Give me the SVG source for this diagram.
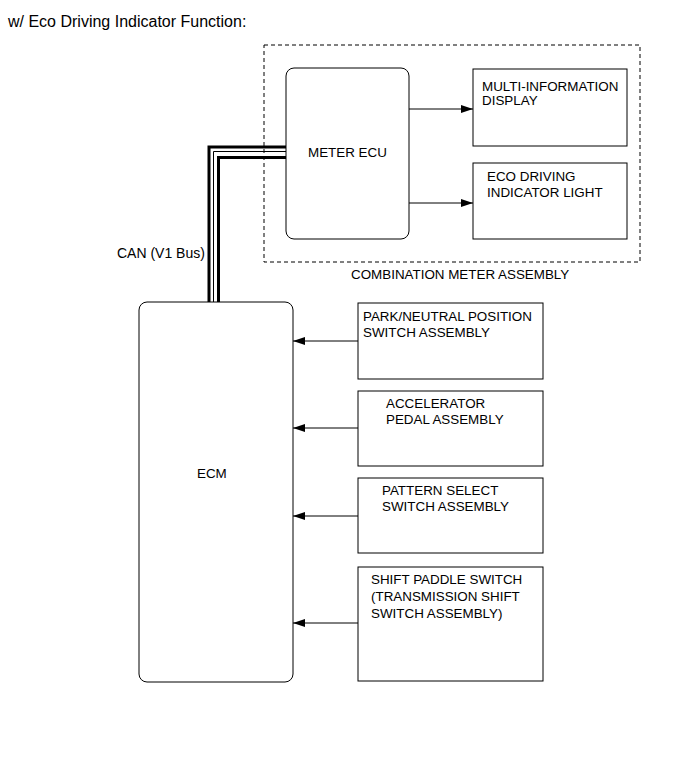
<svg xmlns="http://www.w3.org/2000/svg" width="691" height="757" viewBox="0 0 691 757">
<style>
text{font-family:"Liberation Sans",Arial,sans-serif;font-size:13.4px;fill:#000}
.title{font-size:16px}
.box{fill:#fff;stroke:#000;stroke-width:1}
.conn{stroke:#000;stroke-width:1;fill:none}
.bus{fill:none;stroke:#000}
</style>
<defs>
<marker id="ah" markerWidth="12" markerHeight="8" refX="12" refY="4" orient="auto" markerUnits="userSpaceOnUse">
<path d="M0,0 L12,4 L0,8 Z" fill="#000"/>
</marker>
</defs>
<rect width="691" height="757" fill="#fff"/>
<text class="title" x="8" y="27">w/ Eco Driving Indicator Function:</text>
<g id="combination-meter">
<rect x="264" y="45" width="376" height="217" fill="none" stroke="#000" stroke-width="1" stroke-dasharray="4,3"/>
<text x="351" y="279">COMBINATION METER ASSEMBLY</text>
</g>
<g id="connectors">
<path class="bus" d="M209,302 V147 H286" stroke-width="3"/>
<path class="bus" d="M213.5,302 V151.5 H286" stroke-width="1"/>
<path class="bus" d="M218.5,302 V157.5 H286" stroke-width="3"/>
<line class="conn" x1="409" y1="109" x2="473" y2="109" marker-end="url(#ah)"/>
<line class="conn" x1="409" y1="203" x2="473" y2="203" marker-end="url(#ah)"/>
<line class="conn" x1="358" y1="341" x2="293" y2="341" marker-end="url(#ah)"/>
<line class="conn" x1="358" y1="428" x2="293" y2="428" marker-end="url(#ah)"/>
<line class="conn" x1="358" y1="516" x2="293" y2="516" marker-end="url(#ah)"/>
<line class="conn" x1="358" y1="623" x2="293" y2="623" marker-end="url(#ah)"/>
<text x="117" y="258" style="font-size:14px">CAN (V1 Bus)</text>
</g>
<g id="meter-ecu">
<rect class="box" x="286" y="68" width="123" height="171" rx="8"/>
<text x="308" y="157">METER ECU</text>
</g>
<g id="multi-info">
<rect class="box" x="473" y="69" width="154" height="77"/>
<text x="482" y="91">MULTI-INFORMATION</text>
<text x="482" y="105">DISPLAY</text>
</g>
<g id="eco-light">
<rect class="box" x="473" y="163" width="154" height="76"/>
<text x="487" y="181">ECO DRIVING</text>
<text x="487" y="197">INDICATOR LIGHT</text>
</g>
<g id="ecm">
<rect class="box" x="139" y="302" width="154" height="380" rx="8"/>
<text x="197" y="478">ECM</text>
</g>
<g id="park-neutral">
<rect class="box" x="358" y="303" width="185" height="76"/>
<text x="363" y="321">PARK/NEUTRAL POSITION</text>
<text x="363" y="337">SWITCH ASSEMBLY</text>
</g>
<g id="accelerator">
<rect class="box" x="358" y="391" width="185" height="75"/>
<text x="386" y="408">ACCELERATOR</text>
<text x="386" y="424">PEDAL ASSEMBLY</text>
</g>
<g id="pattern-select">
<rect class="box" x="358" y="478" width="185" height="75"/>
<text x="382" y="495">PATTERN SELECT</text>
<text x="382" y="511">SWITCH ASSEMBLY</text>
</g>
<g id="shift-paddle">
<rect class="box" x="358" y="567" width="185" height="114"/>
<text x="371" y="584">SHIFT PADDLE SWITCH</text>
<text x="371" y="601">(TRANSMISSION SHIFT</text>
<text x="371" y="618">SWITCH ASSEMBLY)</text>
</g>
</svg>
